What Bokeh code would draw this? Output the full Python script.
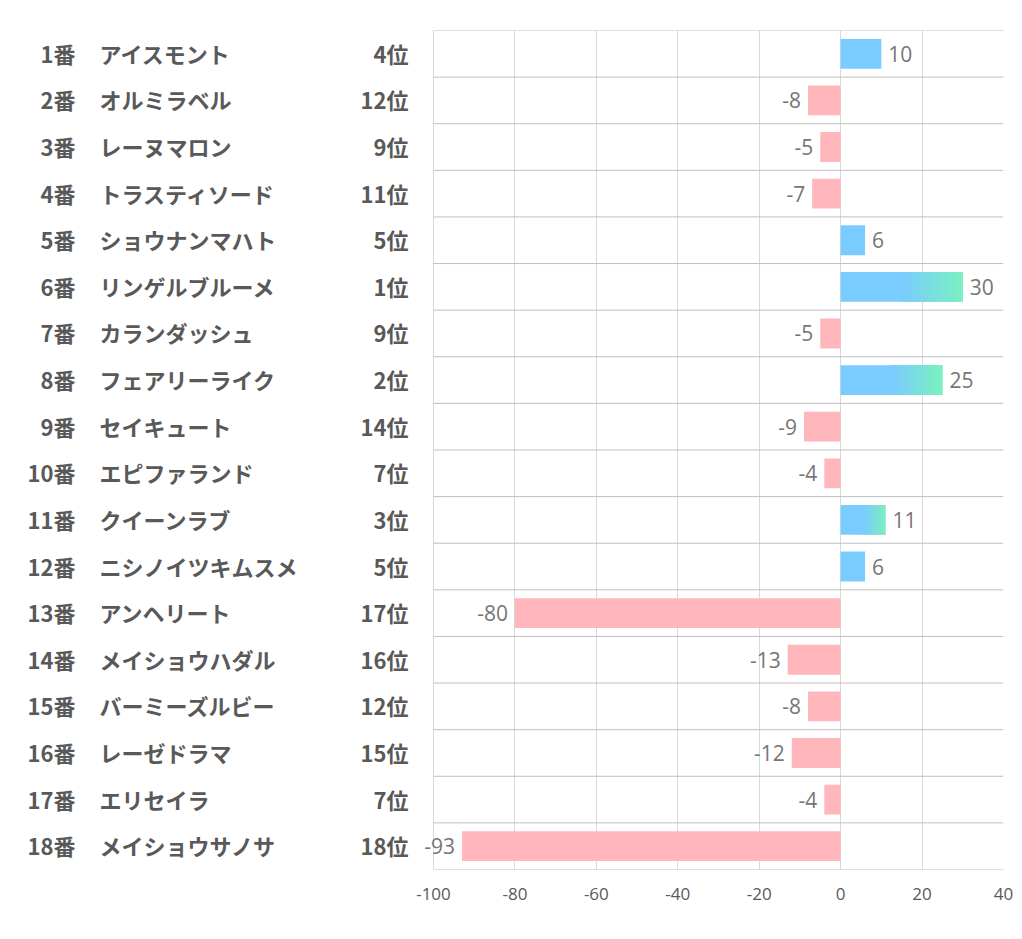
from bokeh.plotting import figure
from bokeh.models import ColumnDataSource, FixedTicker, Range1d
from bokeh.core.properties import value
from bokeh.embed import file_html
from bokeh.resources import INLINE

nums = ["1番", "2番", "3番", "4番", "5番", "6番", "7番", "8番", "9番", "10番",
        "11番", "12番", "13番", "14番", "15番", "16番", "17番", "18番"]
names = ["アイスモント", "オルミラベル", "レーヌマロン", "トラスティソード", "ショウナンマハト",
         "リンゲルブルーメ", "カランダッシュ", "フェアリーライク", "セイキュート", "エピファランド",
         "クイーンラブ", "ニシノイツキムスメ", "アンヘリート", "メイショウハダル", "バーミーズルビー",
         "レーゼドラマ", "エリセイラ", "メイショウサノサ"]
ranks = ["4位", "12位", "9位", "11位", "5位", "1位", "9位", "2位", "14位", "7位",
         "3位", "5位", "17位", "16位", "12位", "15位", "7位", "18位"]
values = [10, -8, -5, -7, 6, 30, -5, 25, -9, -4, 11, 6, -80, -13, -8, -12, -4, -93]
x_ticks = [-100, -80, -60, -40, -20, 0, 20, 40]

BLUE = (122, 203, 255)
GREEN = (122, 245, 185)
PINK = "#FFB7BB"
TXT = "#595959"
VAL = "#767676"
JP = "Noto Sans CJK JP"

n = len(values)
rows = list(range(n))

XMIN, XMAX = -100, 40
PLOT_LEFT = 433      # page x of value -100
PLOT_RIGHT = 1003    # page x of value 40
px = (PLOT_RIGHT - PLOT_LEFT) / (XMAX - XMIN)
XL = XMIN - PLOT_LEFT / px


def page_to_data(xpage):
    return XMIN + (xpage - PLOT_LEFT) / px


p = figure(width=1014, height=920, output_backend="svg", toolbar_location=None,
           x_range=Range1d(XL, XMAX), y_range=Range1d(n - 0.5, -0.5),
           y_axis_location=None,
           min_border_left=0, min_border_right=11, min_border_top=30, min_border_bottom=51)
p.outline_line_color = None
p.background_fill_color = "white"

# grids
p.xgrid.ticker = FixedTicker(ticks=x_ticks)
p.xgrid.grid_line_color = "#D9D9D9"
p.xgrid.grid_line_width = 1
p.ygrid.grid_line_color = None

bounds = [i - 0.5 for i in range(n + 1)]
p.segment(x0=[XMIN] * len(bounds), x1=[XMAX] * len(bounds), y0=bounds, y1=bounds,
          line_color="#BFBFBF", line_width=1)

bar_h = 0.64
cols = [PINK if v < 0 else "#%02X%02X%02X" % BLUE for v in values]
src = ColumnDataSource(dict(y=rows, right=values, color=cols))
p.hbar(y="y", left=0, right="right", height=bar_h, fill_color="color", line_color=None, source=src)

# gradient overlay for larger positive values
gl, gr, gb, gt, gc = [], [], [], [], []
steps = 30
for i, v in enumerate(values):
    if v > 10:
        start = v / 2.0
        w = (v - start) / steps
        for s in range(steps):
            t = (s + 0.5) / steps
            c = tuple(int(round(BLUE[k] + (GREEN[k] - BLUE[k]) * t)) for k in range(3))
            gl.append(start + s * w)
            gr.append(start + (s + 1) * w + 0.02)
            gb.append(i + bar_h / 2)
            gt.append(i - bar_h / 2)
            gc.append("#%02X%02X%02X" % c)
p.quad(left=gl, right=gr, bottom=gb, top=gt, fill_color=gc, line_color=None)

# x axis
p.xaxis.ticker = FixedTicker(ticks=x_ticks)
p.xaxis.major_label_overrides = {t: str(t) for t in x_ticks}
p.xaxis.axis_line_color = None
p.xaxis.major_tick_line_color = None
p.xaxis.minor_tick_line_color = None
p.xaxis.major_label_text_font = "Open Sans"
p.xaxis.major_label_text_font_size = "17px"
p.xaxis.major_label_text_color = TXT
p.xaxis.major_label_standoff = 12

# value labels
pos_y = [i for i, v in enumerate(values) if v >= 0]
pos_v = [v for v in values if v >= 0]
neg_y = [i for i, v in enumerate(values) if v < 0]
neg_v = [v for v in values if v < 0]
p.text(x=pos_v, y=pos_y, text=[str(v) for v in pos_v], x_offset=7, text_align="left",
       text_baseline="middle", text_font=value("Open Sans"), text_font_size="21px",
       text_color=VAL)
p.text(x=neg_v, y=neg_y, text=[str(v) for v in neg_v], x_offset=-7, text_align="right",
       text_baseline="middle", text_font=value("Open Sans"), text_font_size="21px",
       text_color=VAL)

# left text columns (number, name, rank)
common = dict(text_baseline="middle", text_font=value(JP), text_font_style="bold",
              text_font_size="22px", text_color=TXT, y_offset=-1)
p.text(x=[page_to_data(75)] * n, y=rows, text=nums, text_align="right", **common)
p.text(x=[page_to_data(99)] * n, y=rows, text=names, text_align="left", **common)
p.text(x=[page_to_data(408)] * n, y=rows, text=ranks, text_align="right", **common)

open("out.html", "w").write(file_html(p, INLINE))
